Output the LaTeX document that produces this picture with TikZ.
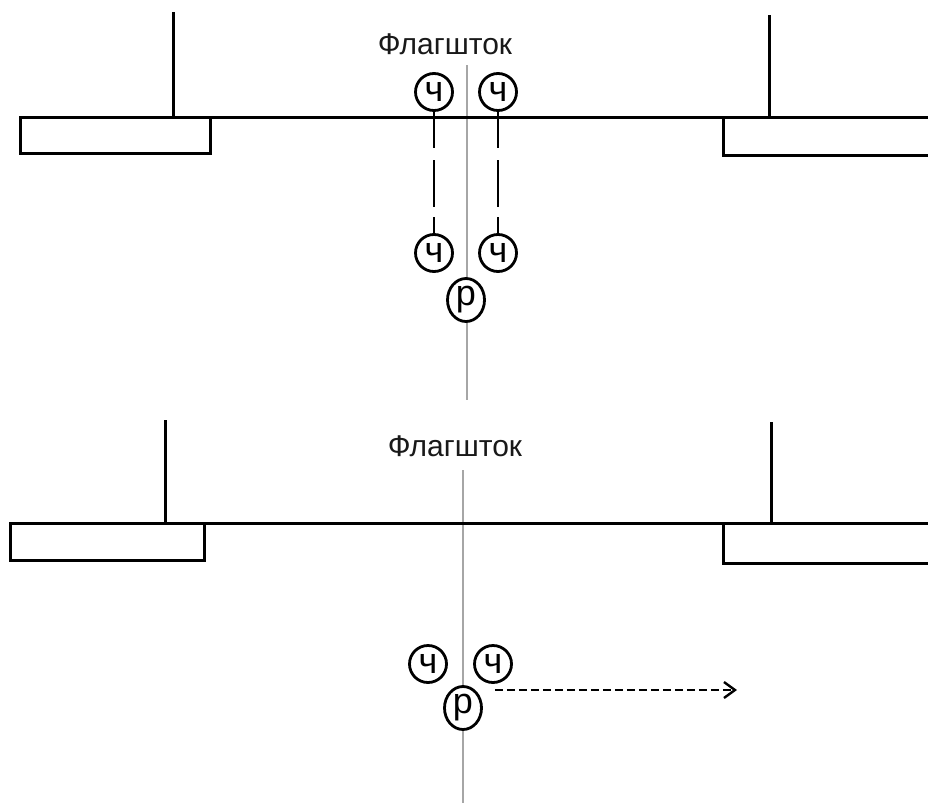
\documentclass[tikz,border=0pt]{standalone}
\usepackage{fontspec}
\setmainfont{Liberation Sans}
\usetikzlibrary{arrows.meta,shapes.geometric}
\begin{document}
\begin{tikzpicture}[x=1pt,y=-1pt,
  blk/.style={line width=3pt,black},
  axis/.style={line width=2.2pt,black!35},
  part/.style={circle,draw,line width=2.8pt,minimum size=37pt,inner sep=0pt,font=\fontsize{36}{38}\selectfont},
  pbox/.style={ellipse,draw,line width=2.8pt,minimum width=37pt,minimum height=43pt,inner sep=0pt,font=\fontsize{36}{38}\selectfont},
  lbl/.style={font=\fontsize{30}{34}\selectfont,text=black!90},
  thin/.style={line width=2.4pt},
  dsh/.style={line width=2.4pt,dash pattern=on 8pt off 4pt}]
\useasboundingbox (0,0) rectangle (928,803);
% ---------- top panel ----------
\draw[axis] (467,65) -- (467,400);
\draw[blk] (20,117) -- (928,117);
\draw[blk] (20,117) rectangle (210,153);
\draw[blk] (723,117) -- (723,155) -- (930,155);
\draw[blk] (173,12) -- (173,117);
\draw[blk] (769,15) -- (769,117);
\node[lbl] (t1) at (445,44) {Флагшток};
\node[part,fill=white] (a1) at (434,92) {ч};
\node[part,fill=white] (a2) at (498,92) {ч};
\node[part] (b1) at (434,253) {ч};
\node[part] (b2) at (498,253) {ч};
\node[pbox,fill=white] (p1) at (466,300) {р};
\foreach \n/\m/\x in {a1/b1/434,a2/b2/498}{
  \draw[thin] (\n.south) -- (\x,148);
  \draw[thin] (\x,160) -- (\x,207);
  \draw[thin] (\x,217) -- (\m.north);
}
% ---------- bottom panel ----------
\draw[axis] (463,470) -- (463,803);
\draw[blk] (10,523) -- (928,523);
\draw[blk] (10,523) rectangle (204,560);
\draw[blk] (723,523) -- (723,563) -- (930,563);
\draw[blk] (165,420) -- (165,523);
\draw[blk] (771,422) -- (771,523);
\node[lbl] (t2) at (455,446) {Флагшток};
\node[part] (c1) at (428,664) {ч};
\node[part] (c2) at (493,664) {ч};
\node[pbox,fill=white] (p2) at (463,708) {р};
\coordinate (e) at (737,690);
\draw[dsh,-{Straight Barb[length=11pt,width=16pt,line width=2.4pt]}] (p2.east |- e) ++(12,0) -- (e);
\end{tikzpicture}
\end{document}
